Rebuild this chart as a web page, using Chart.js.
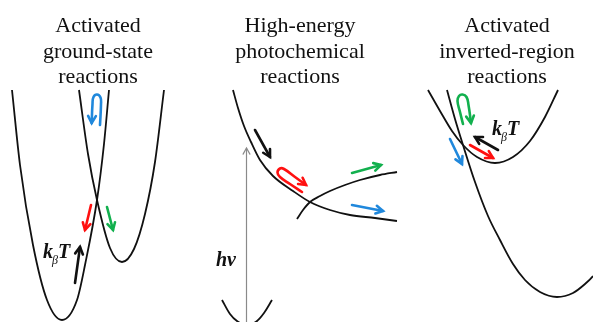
<!DOCTYPE html>
<html><head><meta charset="utf-8">
<script src="https://cdn.jsdelivr.net/npm/chart.js@4.4.1/dist/chart.umd.min.js"></script>
<style>html,body{margin:0;padding:0;background:#fff;overflow:hidden}canvas{display:block}</style>
</head><body>
<canvas id="c" width="593" height="322"></canvas>
<script>
// Potential-energy surfaces: reaction coordinate (x) against energy (E)

// Activated ground-state reactions
const gsReactantX = [12, 20, 33, 47, 62, 77, 85, 97, 104, 109];
const gsReactantE = [232, 157, 77, 22, 2, 22, 57, 122, 178, 232];
const gsProductX  = [79, 88, 97, 110, 122, 134, 145, 155, 164];
const gsProductE  = [232, 168, 122, 74, 60, 73, 108, 160, 232];

// High-energy photochemical reactions
const peExcitedX  = [233, 238, 244, 251, 260, 273, 293, 310, 330, 350, 375, 397];
const peExcitedE  = [232, 214, 196, 180, 162, 146, 131, 120, 112, 107, 104, 101];
const peProductX  = [297, 303, 310, 320, 330, 345, 360, 380, 397];
const peProductE  = [103, 112, 120, 126, 131, 137, 142, 147, 150];
const peGroundX   = [222, 230, 237, 247, 257, 264, 272];
const peGroundE   = [22, 8, 1, -3, 1, 9, 22];

// Activated inverted-region reactions
const irReactantX = [428, 440, 452, 463, 477, 495, 513, 530, 545, 558];
const irReactantE = [232, 211, 191, 177, 165, 159, 165, 181, 205, 232];
const irProductX  = [447, 455, 463, 475, 488, 500, 513, 525, 540, 557, 573, 585, 593, 600];
const irProductE  = [232, 203, 177, 140, 106, 82, 58, 42, 30, 25, 29, 38, 46, 56];

// Pathway arrows
const gsBlueX  = [100, 101, 100.5, 97, 93.5, 92.5, 91.7];
const gsBlueE  = [197, 218, 224.5, 227.5, 225, 218, 199];
const gsRedX   = [91, 85];
const gsRedE   = [117, 92];
const gsGreenX = [107, 113];
const gsGreenE = [115, 92];
const gsKtX    = [75, 80];
const gsKtE    = [39, 75];

const peBlackX = [255, 270];
const peBlackE = [192, 165];
const peRedX   = [302, 290, 280, 277.5, 280, 284, 295, 306];
const peRedE   = [130, 138, 145, 149.5, 153.5, 153, 145, 137];
const peGreenX = [352, 381];
const peGreenE = [149, 157];
const peBlueX  = [352, 383];
const peBlueE  = [117, 111];
const peHvX    = [246.5, 246.5];
const peHvE    = [0, 174];

const irGreenX = [463, 460, 457.5, 459, 462.5, 466.5, 468.5, 471];
const irGreenE = [198, 210, 221, 226, 227.5, 225, 217, 199];
const irBlueX  = [450, 462];
const irBlueE  = [183, 158];
const irRedX   = [470, 493];
const irRedE   = [177, 164];
const irKtX    = [498, 475];
const irKtE    = [172, 185];

// Panel headings
const headGround  = ['Activated', 'ground-state', 'reactions'];
const headPhoto   = ['High-energy', 'photochemical', 'reactions'];
const headInvert  = ['Activated', 'inverted-region', 'reactions'];

const pts = (xs, es) => xs.map((x, i) => ({ x, y: es[i] }));

const BLUE = '#2088dc', RED = '#ff1010', GREEN = '#12b04e', INK = '#111111', GREY = '#8a8a8a';

function curve(xs, es) {
  return { data: pts(xs, es), borderColor: INK, borderWidth: 1.8, cubicInterpolationMode: 'monotone' };
}
function arrow(xs, es, color, opts = {}) {
  return Object.assign({
    data: pts(xs, es), borderColor: color, borderWidth: 2.6,
    tension: xs.length > 2 ? 0.45 : 0, borderCapStyle: 'round', borderJoinStyle: 'round',
    head: { size: 8, width: 2.6 }
  }, opts);
}

const datasets = [
  curve(gsReactantX, gsReactantE),
  curve(gsProductX, gsProductE),
  curve(peExcitedX, peExcitedE),
  curve(peProductX, peProductE),
  curve(peGroundX, peGroundE),
  curve(irReactantX, irReactantE),
  curve(irProductX, irProductE),
  arrow(gsBlueX, gsBlueE, BLUE),
  arrow(gsRedX, gsRedE, RED),
  arrow(gsGreenX, gsGreenE, GREEN),
  arrow(gsKtX, gsKtE, INK),
  arrow(peBlackX, peBlackE, INK),
  arrow(peRedX, peRedE, RED),
  arrow(peGreenX, peGreenE, GREEN),
  arrow(peBlueX, peBlueE, BLUE),
  arrow(peHvX, peHvE, GREY, { borderWidth: 1.2, borderCapStyle: 'butt', head: { size: 7, width: 1.2 } }),
  arrow(irGreenX, irGreenE, GREEN),
  arrow(irBlueX, irBlueE, BLUE),
  arrow(irRedX, irRedE, RED),
  arrow(irKtX, irKtE, INK)
];

// Open "V" heads at the end of each arrow dataset
const arrowHeads = {
  id: 'arrowHeads',
  afterDatasetsDraw(chart) {
    const ctx = chart.ctx;
    chart.data.datasets.forEach((ds, i) => {
      if (!ds.head) return;
      const pe = chart.getDatasetMeta(i).data;
      const a = pe[pe.length - 2], b = pe[pe.length - 1];
      const ang = Math.atan2(b.y - a.y, b.x - a.x);
      const s = ds.head.size, spread = Math.PI / 6.2;
      ctx.save();
      ctx.strokeStyle = ds.borderColor;
      ctx.lineWidth = ds.head.width;
      ctx.lineCap = 'round';
      ctx.lineJoin = 'miter';
      ctx.beginPath();
      ctx.moveTo(b.x - s * Math.cos(ang - spread), b.y - s * Math.sin(ang - spread));
      ctx.lineTo(b.x, b.y);
      ctx.lineTo(b.x - s * Math.cos(ang + spread), b.y - s * Math.sin(ang + spread));
      ctx.stroke();
      ctx.restore();
    });
  }
};

// Headings and symbol labels placed in data units
const labels = {
  id: 'labels',
  afterDraw(chart) {
    const ctx = chart.ctx, xs = chart.scales.x, ys = chart.scales.y;
    const X = v => xs.getPixelForValue(v), Y = v => ys.getPixelForValue(v);
    ctx.save();
    ctx.fillStyle = INK;
    ctx.textBaseline = 'alphabetic';
    ctx.textAlign = 'center';
    ctx.font = '22px "Liberation Serif", "Times New Roman", serif';
    const lineE = [290, 264.5, 239];
    [[headGround, 98], [headPhoto, 300], [headInvert, 507]].forEach(([lines, cx]) => {
      lines.forEach((t, k) => ctx.fillText(t, X(cx), Y(lineE[k])));
    });

    ctx.textAlign = 'left';
    const big = 'italic bold 20px "Liberation Serif", serif';
    const sub = 'italic 12px "Liberation Serif", serif';
    function kT(x, e) {
      let px = X(x); const py = Y(e);
      ctx.font = big; ctx.fillText('k', px, py); px += ctx.measureText('k').width - 1;
      ctx.font = sub; ctx.fillText('\u03B2', px, py + 6); px += ctx.measureText('\u03B2').width;
      ctx.font = big; ctx.fillText('T', px, py);
    }
    kT(43, 64);
    kT(492, 187);
    ctx.font = big;
    ctx.fillText('h\u03BD', X(216), Y(56));
    ctx.restore();
  }
};

new Chart(document.getElementById('c'), {
  type: 'scatter',
  data: { datasets },
  options: {
    responsive: false,
    devicePixelRatio: 1,
    animation: false,
    showLine: true,
    layout: { padding: 0 },
    elements: { point: { radius: 0, hoverRadius: 0 } },
    plugins: { legend: { display: false }, tooltip: { enabled: false } },
    scales: {
      x: { type: 'linear', min: 0, max: 593, display: false },
      y: { type: 'linear', min: 0, max: 322, display: false }
    }
  },
  plugins: [arrowHeads, labels]
});
</script>
</body></html>
